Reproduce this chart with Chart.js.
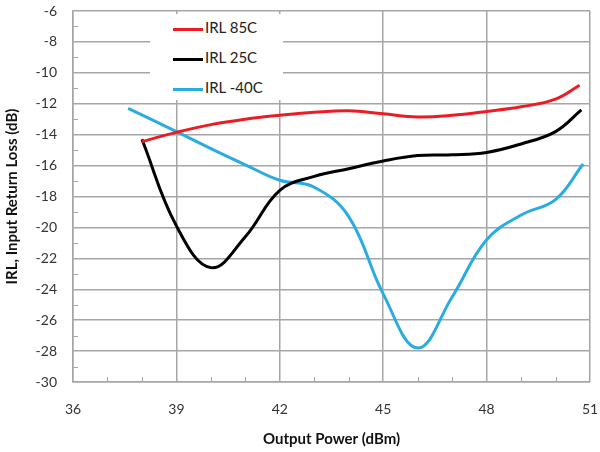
<!DOCTYPE html>
<html>
<head>
<meta charset="utf-8">
<script src="https://cdn.jsdelivr.net/npm/chart.js@4.4.0/dist/chart.umd.min.js"></script>
<style>
  body { margin: 0; background: #fff; }
  #wrap { position: relative; width: 600px; height: 452px; }
  #legend {
    position: absolute; left: 150px; top: 14px; width: 133px; height: 86px;
    background: #fff; font-family: Lato, "Open Sans", sans-serif; font-size: 15px; color: #222;
  }
  #legend .item { position: absolute; left: 23px; height: 20px; line-height: 20px; white-space: nowrap; }
  #legend .swatch { display: inline-block; width: 30px; height: 3px; vertical-align: middle; margin-right: 2px; }
</style>
</head>
<body>
<div id="wrap">
  <canvas id="chart" width="600" height="452"></canvas>
  <div id="legend"></div>
</div>
<script>
// series data
var labels = ['IRL 85C', 'IRL 25C', 'IRL -40C'];
var colors = ['#ec1c24', '#000000', '#2aabe2'];

var x85 = [38, 39, 40, 41, 42, 43, 44, 45, 46, 47, 48, 49, 50, 50.7];
var y85 = [-14.45, -13.85, -13.35, -13.0, -12.75, -12.55, -12.45, -12.65, -12.85, -12.75, -12.5, -12.2, -11.7, -10.8];

var x25 = [38, 39, 40, 41, 42, 43, 44, 45, 46, 47, 48, 49, 50, 50.75];
var y25 = [-14.3, -19.9, -22.6, -20.6, -17.6, -16.7, -16.2, -15.7, -15.35, -15.3, -15.15, -14.6, -13.8, -12.4];

var xM40 = [37.6, 39, 40, 41, 42, 43, 44, 45, 46, 47, 48, 49, 50, 50.8];
var yM40 = [-12.3, -13.8, -14.9, -15.95, -16.95, -17.4, -19.3, -24.3, -27.8, -24.5, -20.8, -19.2, -18.2, -15.9];

// axis ranges
var xMin = 36, xMax = 51, xMajor = 3;
var yMin = -30, yMax = -6, yMajor = 2;

var gridColor = '#a6a6a6';
var fontFamily = 'Lato, "Open Sans", sans-serif';

function pts(xs, ys) {
    return xs.map(function (x, i) { return { x: x, y: ys[i] }; });
}

var series = [pts(x85, y85), pts(x25, y25), pts(xM40, yM40)];

var datasets = series.map(function (d, i) {
    return {
        label: labels[i],
        data: d,
        borderColor: colors[i],
        backgroundColor: colors[i],
        borderWidth: 3,
        pointRadius: 0,
        showLine: true,
        tension: 0.4,
        fill: false
    };
});

// small inward ticks between the major grid lines
var minorTicks = {
    id: 'minorTicks',
    beforeDatasetsDraw: function (chart) {
        var ctx = chart.ctx, a = chart.chartArea;
        var sx = chart.scales.x, sy = chart.scales.y;
        ctx.save();
        ctx.strokeStyle = gridColor;
        ctx.lineWidth = 1;
        ctx.beginPath();
        for (var v = xMin; v <= xMax; v++) {
            if (v % xMajor === 0) continue;
            var px = Math.round(sx.getPixelForValue(v)) + 0.5;
            ctx.moveTo(px, a.bottom);
            ctx.lineTo(px, a.bottom - 5);
        }
        for (var w = yMin; w <= yMax; w++) {
            if (w % yMajor === 0) continue;
            var py = Math.round(sy.getPixelForValue(w)) + 0.5;
            ctx.moveTo(a.left, py);
            ctx.lineTo(a.left + 5, py);
        }
        ctx.stroke();
        ctx.restore();
    }
};

var chart = new Chart(document.getElementById('chart').getContext('2d'), {
    type: 'scatter',
    data: { datasets: datasets },
    plugins: [minorTicks],
    options: {
        responsive: false,
        animation: false,
        layout: { autoPadding: false, padding: { top: 11, right: 10, left: 0, bottom: 0 } },
        plugins: {
            legend: { display: false },
            tooltip: { enabled: false }
        },
        scales: {
            x: {
                type: 'linear',
                min: xMin,
                max: xMax,
                afterFit: function (s) { s.height = 70; s.paddingLeft = 0; s.paddingRight = 0; },
                ticks: {
                    stepSize: 1,
                    autoSkip: false,
                    maxRotation: 0,
                    padding: 19,
                    color: '#333',
                    font: { family: fontFamily, size: 14 },
                    callback: function (v) { return v % xMajor === 0 ? v : ''; }
                },
                grid: {
                    drawTicks: false,
                    lineWidth: 1.5,
                    color: function (c) { return c.tick && c.tick.value % xMajor === 0 ? gridColor : 'rgba(0,0,0,0)'; }
                },
                border: { color: gridColor, width: 1.5 },
                title: {
                    display: true,
                    text: 'Output Power (dBm)',
                    color: '#111',
                    font: { family: fontFamily, size: 15, weight: 'bold' },
                    padding: { top: 4, bottom: 4 }
                }
            },
            y: {
                min: yMin,
                max: yMax,
                afterFit: function (s) { s.width = 73; s.paddingTop = 0; s.paddingBottom = 0; },
                ticks: {
                    stepSize: 1,
                    autoSkip: false,
                    padding: 16,
                    color: '#333',
                    font: { family: fontFamily, size: 14 },
                    callback: function (v) { return v % yMajor === 0 ? v : ''; }
                },
                grid: {
                    drawTicks: false,
                    lineWidth: 1.5,
                    color: function (c) { return c.tick && c.tick.value % yMajor === 0 ? gridColor : 'rgba(0,0,0,0)'; }
                },
                border: { color: gridColor, width: 1.5 },
                title: {
                    display: true,
                    text: 'IRL, Input Return Loss (dB)',
                    color: '#111',
                    font: { family: fontFamily, size: 15, weight: 'bold' },
                    padding: { top: 3, bottom: 4 }
                }
            }
        }
    }
});

// legend inside the plot, built from the datasets
var legend = document.getElementById('legend');
chart.data.datasets.forEach(function (ds, i) {
    var item = document.createElement('div');
    item.className = 'item';
    item.style.top = (3 + i * 30) + 'px';
    item.innerHTML = '<span class="swatch" style="background:' + ds.borderColor + '"></span>' + ds.label;
    legend.appendChild(item);
});
</script>
</body>
</html>
